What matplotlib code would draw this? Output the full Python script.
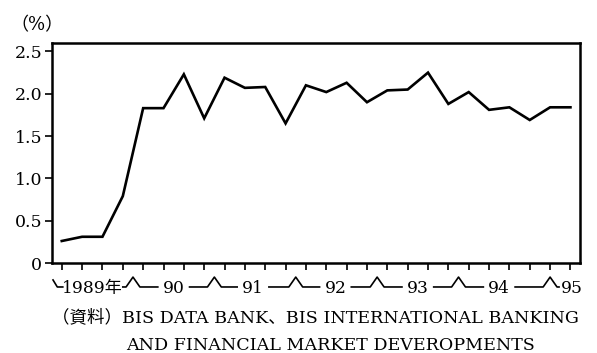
import matplotlib.pyplot as plt

plt.rcParams['font.family'] = ['DejaVu Serif', 'Noto Sans CJK JP']

# quarterly values, 1989Q1 - 1995Q2 (%)
values = [0.26, 0.31, 0.31, 0.79, 1.83, 1.83, 2.23, 1.71, 2.19, 2.07, 2.08, 1.65, 2.10,
          2.02, 2.13, 1.90, 2.04, 2.05, 2.25, 1.88, 2.02, 1.81, 1.84, 1.69, 1.84, 1.84]
year_labels = ['1989年', '90', '91', '92', '93', '94', '95']
yticks = [0, 0.5, 1.0, 1.5, 2.0, 2.5]
ytick_labels = ['0', '0.5', '1.0', '1.5', '2.0', '2.5']
note1 = '（資料）BIS DATA BANK、BIS INTERNATIONAL BANKING'
note2 = 'AND FINANCIAL MARKET DEVEROPMENTS'

fig = plt.figure(figsize=(5.97, 3.53), dpi=100)
ax = fig.add_axes([52/597, 1-263/353, 528/597, 220/353])

x = list(range(len(values)))
ax.plot(x, values, color='black', lw=1.9, solid_joinstyle='miter')

ax.set_xlim(-0.48, 25.47)
ax.set_ylim(0, 2.6)
ax.set_xticks(x)
ax.set_xticklabels([])
ax.set_yticks(yticks)
ax.set_yticklabels(ytick_labels, fontsize=12.5)
ax.tick_params(axis='both', direction='out', length=5, width=1.2, color='black', pad=2)
for s in ax.spines.values():
    s.set_linewidth(1.8)

# year bracket row under the axis
tr = ax.get_xaxis_transform()
ly = -0.109
peak = -0.064
kw = dict(color='black', lw=1.2, transform=tr, clip_on=False)
carets = [3.5, 7.5, 11.5, 15.5, 19.5, 24.0]
centers = [1.5, 5.5, 9.4, 13.45, 17.5, 21.5, 25.06]
left_gap = [1.3, 0.78, 0.78, 0.78, 0.78, 0.78, 0.62]
right_gap = [1.5, 0.78, 0.78, 0.78, 0.78, 0.78, 0.62]
ax.plot([-0.43, -0.22, 0.05], [-0.077, ly, ly], **kw)
for i, c in enumerate(carets):
    ax.plot([centers[i] + right_gap[i], c - 0.34, c, c + 0.34, centers[i+1] - left_gap[i+1]],
            [ly, ly, peak, ly, ly], **kw)
for c, lab in zip(centers, year_labels):
    ax.text(c, -0.114, lab, transform=tr, ha='center', va='center', fontsize=12.3)

fig.text(52/597, 1-318/353, note1, ha='left', va='center', fontsize=12.6)
fig.text(330/597, 1-345/353, note2, ha='center', va='center', fontsize=12.6)
fig.text(10/597, 1-25/353, '（%）', ha='left', va='center', fontsize=13)

fig.savefig('out.png', dpi=100)
